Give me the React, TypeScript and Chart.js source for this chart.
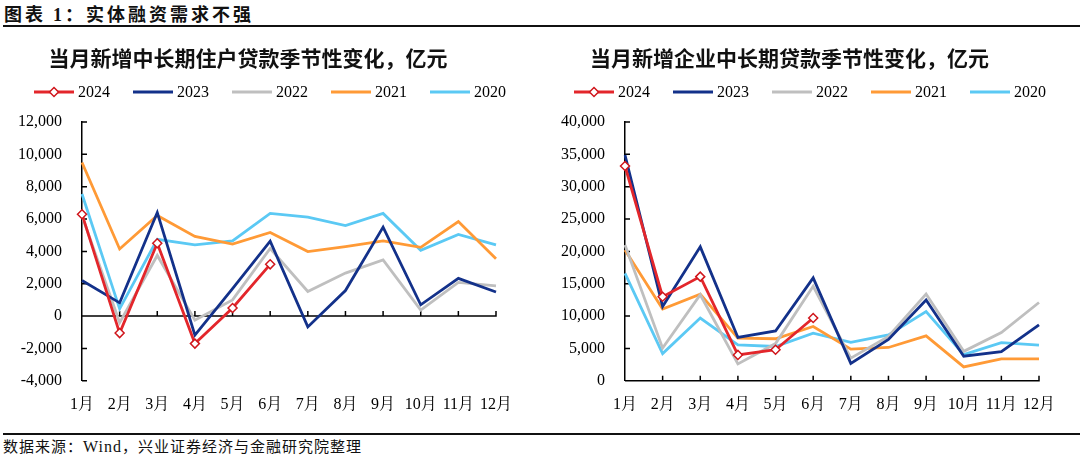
import React, { useEffect, useRef } from 'react';
import { Chart, registerables } from 'chart.js';

Chart.register(...registerables);

const months = ['1月', '2月', '3月', '4月', '5月', '6月', '7月', '8月', '9月', '10月', '11月', '12月'];
const years = ['2024', '2023', '2022', '2021', '2020'];
const colors = ['#E3262B', '#13318A', '#BFBFBF', '#FF9A36', '#5BC9F4'];

// 当月新增中长期住户贷款，亿元
const house2024 = [6300, -1050, 4500, -1700, 500, 3200];
const house2023 = [2200, 820, 6400, -1180, 1700, 4630, -670, 1580, 5500, 700, 2330, 1490];
const house2022 = [6200, -400, 3750, -250, 1000, 4180, 1520, 2660, 3470, 370, 2080, 1870];
const house2021 = [9500, 4150, 6220, 4930, 4450, 5170, 3990, 4300, 4650, 4250, 5850, 3550];
const house2020 = [7550, 450, 4750, 4400, 4650, 6350, 6120, 5600, 6350, 4070, 5050, 4400];

// 当月新增企业中长期贷款，亿元
const corp2024 = [33200, 13000, 16100, 4000, 4800, 9700];
const corp2023 = [34900, 11500, 20700, 6700, 7700, 15900, 2700, 6400, 12500, 3800, 4500, 8650];
const corp2022 = [21000, 5050, 13300, 2600, 5750, 14600, 3500, 6850, 13400, 4550, 7450, 12100];
const corp2021 = [20200, 11100, 13400, 6600, 6500, 8400, 4900, 5150, 6950, 2150, 3400, 3400];
const corp2020 = [16600, 4200, 9700, 5550, 5300, 7350, 5950, 7100, 10700, 4050, 5900, 5500];

const houseAxis = [-4000, 12000, 2000];
const corpAxis = [0, 40000, 5000];

const SERIF = "'Liberation Serif', 'Noto Serif CJK SC', 'Noto Sans CJK SC', serif";
const CJK_BOLD = "'Noto Sans CJK SC', 'Liberation Serif', sans-serif";

const axisMarks = {
  id: 'axisMarks',
  beforeDatasetsDraw(chart: any) {
    const { ctx, chartArea, scales } = chart;
    const x = scales.x;
    const y = scales.y;
    const y0 = y.getPixelForValue(0);
    ctx.save();
    ctx.strokeStyle = '#000';
    ctx.lineWidth = 1.5;
    ctx.beginPath();
    ctx.moveTo(chartArea.left, y0);
    ctx.lineTo(chartArea.right + 0.75, y0);
    for (let i = 1; i < x.ticks.length; i++) {
      const px = x.getPixelForTick(i);
      ctx.moveTo(px, y0);
      ctx.lineTo(px, y0 - 5);
    }
    for (const t of y.ticks) {
      const py = y.getPixelForValue(t.value);
      ctx.moveTo(chartArea.left, py);
      ctx.lineTo(chartArea.left + 5, py);
    }
    ctx.stroke();
    ctx.restore();
  },
};

const lineLegend = {
  id: 'lineLegend',
  afterDraw(chart: any) {
    const { ctx } = chart;
    const ds = chart.data.datasets;
    const cy = 64;
    const lineW = 40;
    const gap = 4;
    const spacing = 23;
    ctx.save();
    ctx.font = `16px ${SERIF}`;
    ctx.textBaseline = 'middle';
    ctx.textAlign = 'left';
    const widths = ds.map((d: any) => lineW + gap + ctx.measureText(d.label).width);
    const total = widths.reduce((a: number, b: number) => a + b, 0) + spacing * (ds.length - 1);
    let x = chart.width / 2 - total / 2;
    ds.forEach((d: any, i: number) => {
      ctx.strokeStyle = d.borderColor;
      ctx.lineWidth = 3;
      ctx.beginPath();
      ctx.moveTo(x, cy);
      ctx.lineTo(x + lineW, cy);
      ctx.stroke();
      if (d.pointRadius > 0) {
        const r = 4.5;
        const mx = x + lineW / 2;
        ctx.beginPath();
        ctx.moveTo(mx, cy - r);
        ctx.lineTo(mx + r, cy);
        ctx.lineTo(mx, cy + r);
        ctx.lineTo(mx - r, cy);
        ctx.closePath();
        ctx.fillStyle = '#fff';
        ctx.fill();
        ctx.lineWidth = 1.5;
        ctx.strokeStyle = d.pointBorderColor;
        ctx.stroke();
      }
      ctx.fillStyle = '#000';
      ctx.fillText(d.label, x + lineW + gap, cy + 1);
      x += widths[i] + spacing;
    });
    ctx.restore();
  },
};

function makeDatasets(series: number[][]) {
  return series.map((data, i) => ({
    label: years[i],
    data,
    borderColor: colors[i],
    backgroundColor: colors[i],
    borderWidth: 2.8,
    pointRadius: i === 0 ? 4.5 : 0,
    pointHoverRadius: i === 0 ? 4.5 : 0,
    pointStyle: 'rectRot',
    pointBackgroundColor: '#fff',
    pointBorderColor: '#D0161C',
    pointBorderWidth: 1.5,
    tension: 0,
    fill: false,
  }));
}

function LineChart(props: { title: string; series: number[][]; axis: number[]; axisWidth: number; padRight: number }) {
  const ref = useRef<HTMLCanvasElement | null>(null);
  useEffect(() => {
    if (!ref.current) return;
    const [min, max, step] = props.axis;
    const chart = new Chart(ref.current, {
      type: 'line',
      data: { labels: months, datasets: makeDatasets(props.series) as any },
      plugins: [axisMarks, lineLegend],
      options: {
        animation: false,
        responsive: true,
        maintainAspectRatio: false,
        layout: { padding: { left: 0, right: props.padRight, top: 0, bottom: 0 } },
        plugins: {
          legend: { display: false },
          tooltip: { enabled: false },
          title: {
            display: true,
            text: props.title,
            color: '#111',
            font: { family: CJK_BOLD, size: 21, weight: 'bold', lineHeight: 1.2 },
            padding: { top: 17.4, bottom: 51.4 },
          },
        },
        scales: {
          x: {
            type: 'category',
            offset: false,
            grid: { display: false, drawTicks: false },
            border: { display: false },
            ticks: {
              color: '#000',
              font: { family: SERIF, size: 16 },
              padding: 14,
              maxRotation: 0,
              autoSkip: false,
            },
          },
          y: {
            min,
            max,
            grid: { display: false, drawTicks: false },
            border: { display: true, color: '#000', width: 1.5 },
            ticks: {
              stepSize: step,
              color: '#000',
              font: { family: SERIF, size: 16 },
              padding: 20,
              callback: (v: any) => Number(v).toLocaleString('en-US'),
            },
            afterFit: (scale: any) => {
              scale.width = props.axisWidth;
            },
          },
        },
      },
    });
    return () => chart.destroy();
  }, []);
  return <canvas ref={ref} />;
}

export default function App() {
  useEffect(() => {
    document.body.style.margin = '0';
  }, []);
  return (
    <div style={{ position: 'relative', width: 1080, height: 457, background: '#fff', overflow: 'hidden' }}>
      <div
        style={{
          position: 'absolute',
          left: 4,
          top: 2,
          fontFamily: CJK_BOLD,
          fontWeight: 'bold',
          fontSize: 18,
          lineHeight: '22px',
          color: '#111',
          letterSpacing: 3,
          whiteSpace: 'nowrap',
        }}
      >
        图表 <span style={{ fontFamily: SERIF }}>1</span>：实体融资需求不强
      </div>
      <div style={{ position: 'absolute', left: 3, right: 0, top: 25, height: 2, background: '#111' }} />
      <div style={{ position: 'absolute', left: 0, top: 28, width: 540, height: 400 }}>
        <LineChart
          title="当月新增中长期住户贷款季节性变化，亿元"
          series={[house2024, house2023, house2022, house2021, house2020]}
          axis={houseAxis}
          axisWidth={82}
          padRight={44}
        />
      </div>
      <div style={{ position: 'absolute', left: 540, top: 28, width: 540, height: 400 }}>
        <LineChart
          title="当月新增企业中长期贷款季节性变化，亿元"
          series={[corp2024, corp2023, corp2022, corp2021, corp2020]}
          axis={corpAxis}
          axisWidth={85}
          padRight={41}
        />
      </div>
      <div style={{ position: 'absolute', left: 3, right: 0, top: 433, height: 2, background: '#111' }} />
      <div
        style={{
          position: 'absolute',
          left: 3,
          top: 437,
          fontFamily: "'Noto Sans CJK SC', 'Liberation Serif', sans-serif",
          fontSize: 15,
          lineHeight: '18px',
          color: '#111',
          letterSpacing: 1,
          whiteSpace: 'nowrap',
        }}
      >
        数据来源：<span style={{ fontFamily: SERIF, fontSize: 16 }}>Wind</span>，兴业证券经济与金融研究院整理
      </div>
    </div>
  );
}
